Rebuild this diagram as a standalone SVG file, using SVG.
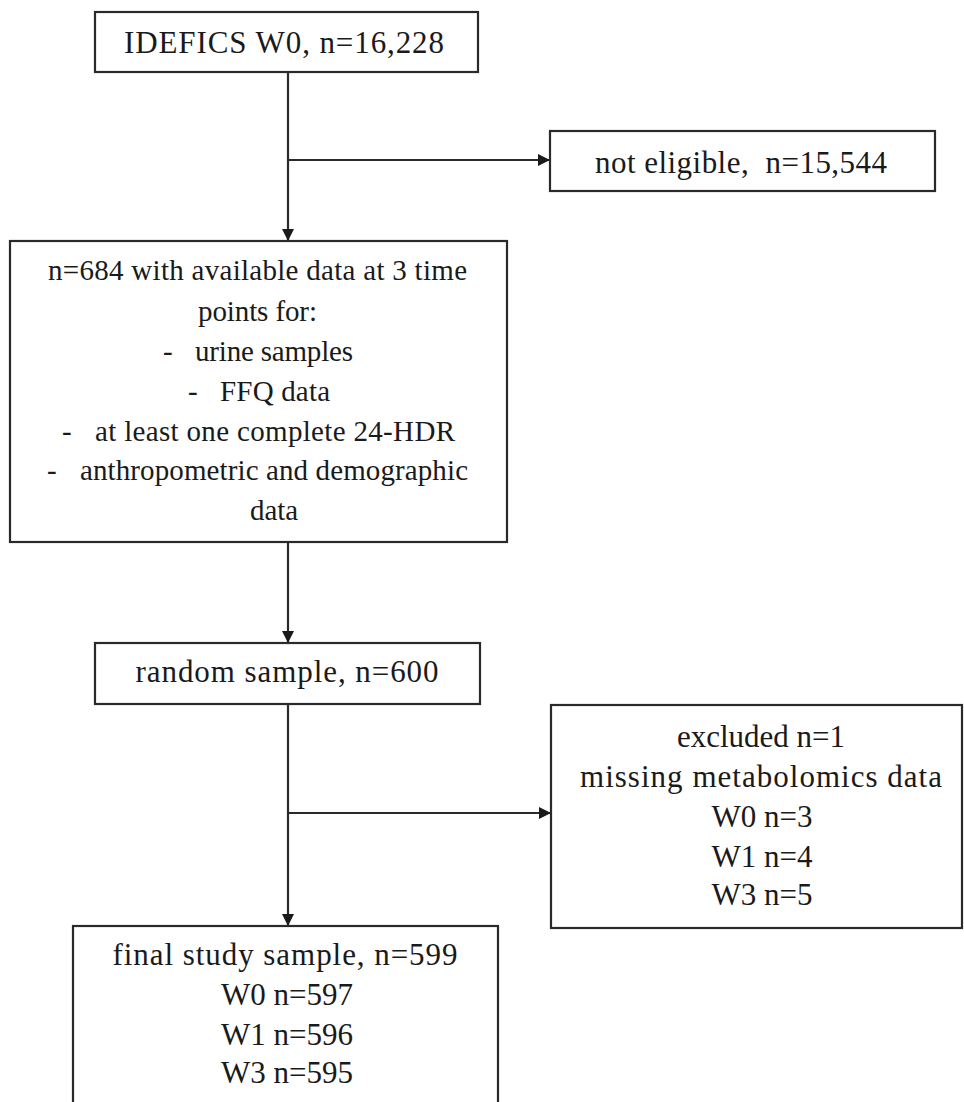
<svg xmlns="http://www.w3.org/2000/svg" width="964" height="1102" viewBox="0 0 964 1102">
<style>
.box{fill:#fff;stroke:#2a2a2a;stroke-width:2.2}
.t{font-family:"Liberation Serif","Times New Roman",serif;fill:#1a1a1a;font-size:31px}
.c{text-anchor:middle}
.s{font-size:29px}
.ln{stroke:#2a2a2a;stroke-width:2.2;fill:none}
</style>
<defs>
<marker id="ah" viewBox="0 0 12 12" refX="12" refY="6" markerWidth="12" markerHeight="12" markerUnits="userSpaceOnUse" orient="auto">
<path d="M0,0 L12,6 L0,12 Z" fill="#1a1a1a"/>
</marker>
</defs>
<rect width="964" height="1102" fill="#fff"/>
<g id="connectors">
<line class="ln" x1="288" y1="72" x2="288" y2="241" marker-end="url(#ah)"/>
<line class="ln" x1="288" y1="160" x2="550" y2="160" marker-end="url(#ah)"/>
<line class="ln" x1="288" y1="542" x2="288" y2="643" marker-end="url(#ah)"/>
<line class="ln" x1="288" y1="704" x2="288" y2="926" marker-end="url(#ah)"/>
<line class="ln" x1="288" y1="813" x2="551" y2="813" marker-end="url(#ah)"/>
</g>
<g id="n1">
<rect class="box" x="95" y="12" width="383" height="60"/>
<text class="t c" x="284" y="53" textLength="320">IDEFICS W0, n=16,228</text>
</g>
<g id="n2">
<rect class="box" x="550" y="131" width="385" height="60"/>
<text class="t c" x="741" y="173" textLength="292" xml:space="preserve">not eligible,  n=15,544</text>
</g>
<g id="n3">
<rect class="box" x="10" y="241" width="497" height="301"/>
<text class="t s" x="48" y="280" textLength="419">n=684 with  available  data at 3 time</text>
<text class="t s" x="198" y="321" textLength="119">points  for:</text>
<text class="t s" x="163" y="361">-</text>
<text class="t s" x="195" y="361" textLength="158">urine  samples</text>
<text class="t s" x="188" y="401">-</text>
<text class="t s" x="220" y="401" textLength="110">FFQ data</text>
<text class="t s" x="62" y="441">-</text>
<text class="t s" x="95" y="441" textLength="360">at least one complete  24-HDR</text>
<text class="t s" x="47" y="480">-</text>
<text class="t s" x="80" y="480" textLength="388">anthropometric  and demographic</text>
<text class="t s" x="250" y="520" textLength="48">data</text>
</g>
<g id="n4">
<rect class="box" x="95" y="643" width="385" height="61"/>
<text class="t c" x="287" y="682" textLength="303">random  sample,  n=600</text>
</g>
<g id="n5">
<rect class="box" x="551" y="705" width="411" height="223"/>
<text class="t c" x="761" y="747">excluded  n=1</text>
<text class="t c" x="761" y="787" textLength="362">missing  metabolomics  data</text>
<text class="t c" x="762" y="827">W0 n=3</text>
<text class="t c" x="762" y="867">W1 n=4</text>
<text class="t c" x="762" y="905">W3 n=5</text>
</g>
<g id="n6">
<rect class="box" x="73" y="926" width="425" height="190"/>
<text class="t c" x="285" y="965" textLength="345">final  study  sample,  n=599</text>
<text class="t c" x="287" y="1005">W0 n=597</text>
<text class="t c" x="287" y="1045">W1 n=596</text>
<text class="t c" x="287" y="1083">W3 n=595</text>
</g>
</svg>
